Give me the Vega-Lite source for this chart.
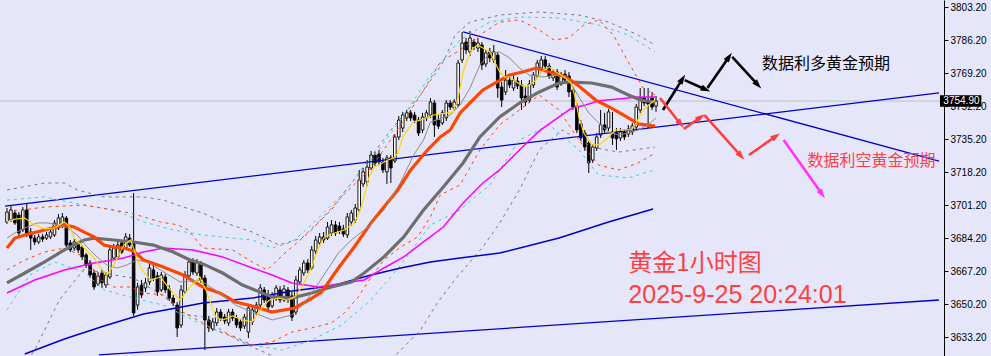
{
"$schema": "https://vega.github.io/schema/vega-lite/v6.json",
"width": 944, "height": 356,
"autosize": {"type": "none"},
"padding": {"left": 0, "top": 0, "right": 47, "bottom": 0},
"background": "#e6e6fa",
"config": {"view": {"stroke": null}, "axisX": {"disable": true}},
"datasets": {
"one": [{"k": 1}],
"candles": [
{"i":0,"o":3692.6,"h":3699.8,"l":3691.6,"c":3697.7},
{"i":1,"o":3693.6,"h":3700.8,"l":3692.6,"c":3698.8},
{"i":2,"o":3697.2,"h":3698.8,"l":3691.1,"c":3692.1},
{"i":3,"o":3696.2,"h":3697.7,"l":3685.4,"c":3686.9},
{"i":4,"o":3688.5,"h":3700.3,"l":3687.4,"c":3698.8},
{"i":5,"o":3698.8,"h":3702.4,"l":3684.9,"c":3685.9},
{"i":6,"o":3687.4,"h":3689.5,"l":3678.2,"c":3684.3},
{"i":7,"o":3684.3,"h":3685.9,"l":3680.7,"c":3682.3},
{"i":8,"o":3682.3,"h":3686.4,"l":3681.3,"c":3684.9},
{"i":9,"o":3684.9,"h":3686.4,"l":3682.3,"c":3683.8},
{"i":10,"o":3684.3,"h":3687.4,"l":3683.3,"c":3685.9},
{"i":11,"o":3684.9,"h":3689.0,"l":3683.8,"c":3687.4},
{"i":12,"o":3685.9,"h":3693.6,"l":3684.9,"c":3692.1},
{"i":13,"o":3689.5,"h":3696.7,"l":3688.5,"c":3694.6},
{"i":14,"o":3691.1,"h":3697.2,"l":3689.5,"c":3695.2},
{"i":15,"o":3694.6,"h":3695.7,"l":3679.7,"c":3680.7},
{"i":16,"o":3681.8,"h":3683.3,"l":3677.1,"c":3678.2},
{"i":17,"o":3679.2,"h":3683.8,"l":3677.6,"c":3682.3},
{"i":18,"o":3681.8,"h":3682.8,"l":3676.6,"c":3678.2},
{"i":19,"o":3679.7,"h":3680.7,"l":3673.0,"c":3674.6},
{"i":20,"o":3675.6,"h":3676.6,"l":3668.9,"c":3670.4},
{"i":21,"o":3671.5,"h":3673.0,"l":3663.7,"c":3665.3},
{"i":22,"o":3666.3,"h":3667.9,"l":3657.6,"c":3659.1},
{"i":23,"o":3660.6,"h":3666.8,"l":3659.6,"c":3664.8},
{"i":24,"o":3666.3,"h":3667.9,"l":3658.6,"c":3661.2},
{"i":25,"o":3660.1,"h":3666.8,"l":3658.6,"c":3665.3},
{"i":26,"o":3664.3,"h":3680.2,"l":3663.2,"c":3678.2},
{"i":27,"o":3674.0,"h":3681.3,"l":3673.0,"c":3679.2},
{"i":28,"o":3674.6,"h":3682.8,"l":3673.5,"c":3680.7},
{"i":29,"o":3681.8,"h":3683.3,"l":3676.1,"c":3677.1},
{"i":30,"o":3679.2,"h":3686.9,"l":3678.2,"c":3684.9},
{"i":31,"o":3684.3,"h":3686.4,"l":3679.7,"c":3680.7},
{"i":32,"o":3682.3,"h":3707.5,"l":3644.2,"c":3645.7},
{"i":33,"o":3649.8,"h":3661.2,"l":3647.3,"c":3659.1},
{"i":34,"o":3660.1,"h":3662.7,"l":3653.4,"c":3655.0},
{"i":35,"o":3658.6,"h":3663.7,"l":3656.5,"c":3661.2},
{"i":36,"o":3661.7,"h":3670.9,"l":3660.1,"c":3668.9},
{"i":37,"o":3667.9,"h":3670.4,"l":3662.2,"c":3663.7},
{"i":38,"o":3664.8,"h":3666.8,"l":3654.5,"c":3656.5},
{"i":39,"o":3657.6,"h":3666.8,"l":3656.5,"c":3665.3},
{"i":40,"o":3664.3,"h":3665.8,"l":3656.0,"c":3657.6},
{"i":41,"o":3658.1,"h":3660.1,"l":3651.9,"c":3653.4},
{"i":42,"o":3653.4,"h":3655.0,"l":3649.3,"c":3650.9},
{"i":43,"o":3649.8,"h":3651.4,"l":3633.3,"c":3638.0},
{"i":44,"o":3639.5,"h":3660.1,"l":3638.0,"c":3657.6},
{"i":45,"o":3656.5,"h":3667.3,"l":3655.5,"c":3665.3},
{"i":46,"o":3664.8,"h":3674.0,"l":3663.7,"c":3672.0},
{"i":47,"o":3672.0,"h":3674.0,"l":3665.3,"c":3666.8},
{"i":48,"o":3666.3,"h":3673.5,"l":3664.8,"c":3672.0},
{"i":49,"o":3671.0,"h":3672.5,"l":3661.2,"c":3662.7},
{"i":50,"o":3663.7,"h":3665.3,"l":3626.6,"c":3642.1},
{"i":51,"o":3642.1,"h":3644.2,"l":3635.9,"c":3638.0},
{"i":52,"o":3637.5,"h":3643.1,"l":3636.4,"c":3641.1},
{"i":53,"o":3640.6,"h":3648.3,"l":3639.0,"c":3646.2},
{"i":54,"o":3646.2,"h":3647.8,"l":3641.6,"c":3643.1},
{"i":55,"o":3643.6,"h":3645.2,"l":3640.0,"c":3641.6},
{"i":56,"o":3640.6,"h":3647.8,"l":3639.0,"c":3646.2},
{"i":57,"o":3646.2,"h":3647.8,"l":3641.6,"c":3643.1},
{"i":58,"o":3643.1,"h":3644.7,"l":3638.0,"c":3639.5},
{"i":59,"o":3641.1,"h":3642.6,"l":3636.4,"c":3638.0},
{"i":60,"o":3639.0,"h":3645.2,"l":3637.5,"c":3643.6},
{"i":61,"o":3635.9,"h":3649.8,"l":3632.8,"c":3648.3},
{"i":62,"o":3641.1,"h":3649.3,"l":3639.5,"c":3647.3},
{"i":63,"o":3646.2,"h":3651.4,"l":3644.7,"c":3649.8},
{"i":64,"o":3649.8,"h":3660.6,"l":3648.8,"c":3658.6},
{"i":65,"o":3657.6,"h":3659.1,"l":3650.9,"c":3652.4},
{"i":66,"o":3655.0,"h":3657.6,"l":3647.3,"c":3648.8},
{"i":67,"o":3649.3,"h":3656.5,"l":3648.3,"c":3655.0},
{"i":68,"o":3652.9,"h":3660.1,"l":3651.9,"c":3658.6},
{"i":69,"o":3657.6,"h":3659.6,"l":3650.9,"c":3652.4},
{"i":70,"o":3652.4,"h":3660.1,"l":3651.4,"c":3658.1},
{"i":71,"o":3657.6,"h":3659.1,"l":3650.9,"c":3652.4},
{"i":72,"o":3654.5,"h":3656.5,"l":3641.6,"c":3643.6},
{"i":73,"o":3646.2,"h":3664.8,"l":3644.7,"c":3662.7},
{"i":74,"o":3661.7,"h":3669.4,"l":3660.6,"c":3667.9},
{"i":75,"o":3666.3,"h":3673.0,"l":3664.8,"c":3671.5},
{"i":76,"o":3671.5,"h":3673.5,"l":3666.3,"c":3667.9},
{"i":77,"o":3668.9,"h":3680.2,"l":3667.9,"c":3678.2},
{"i":78,"o":3677.6,"h":3685.4,"l":3676.1,"c":3683.3},
{"i":79,"o":3681.8,"h":3686.9,"l":3680.2,"c":3684.9},
{"i":80,"o":3684.9,"h":3687.4,"l":3681.8,"c":3683.3},
{"i":81,"o":3684.3,"h":3692.6,"l":3683.3,"c":3690.0},
{"i":82,"o":3686.9,"h":3693.6,"l":3685.4,"c":3691.1},
{"i":83,"o":3691.1,"h":3693.1,"l":3685.4,"c":3686.9},
{"i":84,"o":3690.5,"h":3692.6,"l":3686.4,"c":3687.9},
{"i":85,"o":3689.0,"h":3691.1,"l":3684.9,"c":3686.4},
{"i":86,"o":3685.9,"h":3697.2,"l":3684.3,"c":3695.2},
{"i":87,"o":3692.6,"h":3698.8,"l":3690.5,"c":3697.2},
{"i":88,"o":3693.6,"h":3701.9,"l":3692.1,"c":3699.8},
{"i":89,"o":3698.8,"h":3719.4,"l":3697.7,"c":3714.2},
{"i":90,"o":3712.2,"h":3720.4,"l":3710.6,"c":3718.4},
{"i":91,"o":3713.2,"h":3724.5,"l":3711.1,"c":3720.9},
{"i":92,"o":3720.4,"h":3729.2,"l":3719.4,"c":3727.1},
{"i":93,"o":3727.1,"h":3728.6,"l":3721.4,"c":3723.0},
{"i":94,"o":3727.6,"h":3729.7,"l":3722.0,"c":3723.5},
{"i":95,"o":3723.5,"h":3725.6,"l":3717.8,"c":3719.4},
{"i":96,"o":3718.4,"h":3727.1,"l":3712.2,"c":3725.6},
{"i":97,"o":3725.6,"h":3727.1,"l":3712.7,"c":3720.4},
{"i":98,"o":3724.0,"h":3737.9,"l":3723.0,"c":3736.4},
{"i":99,"o":3736.4,"h":3747.2,"l":3734.8,"c":3745.1},
{"i":100,"o":3741.0,"h":3749.3,"l":3738.9,"c":3747.7},
{"i":101,"o":3746.2,"h":3750.3,"l":3744.6,"c":3748.8},
{"i":102,"o":3748.8,"h":3750.3,"l":3744.6,"c":3746.2},
{"i":103,"o":3747.7,"h":3749.3,"l":3743.6,"c":3745.1},
{"i":104,"o":3745.1,"h":3746.7,"l":3736.9,"c":3738.4},
{"i":105,"o":3740.0,"h":3748.8,"l":3738.4,"c":3746.7},
{"i":106,"o":3746.2,"h":3750.3,"l":3744.6,"c":3748.8},
{"i":107,"o":3747.7,"h":3756.5,"l":3746.2,"c":3754.4},
{"i":108,"o":3753.9,"h":3755.4,"l":3736.4,"c":3742.6},
{"i":109,"o":3745.1,"h":3747.7,"l":3740.5,"c":3742.0},
{"i":110,"o":3743.6,"h":3750.3,"l":3742.6,"c":3748.8},
{"i":111,"o":3746.2,"h":3755.4,"l":3744.6,"c":3753.9},
{"i":112,"o":3753.9,"h":3755.4,"l":3750.3,"c":3751.8},
{"i":113,"o":3751.3,"h":3755.9,"l":3749.8,"c":3754.4},
{"i":114,"o":3752.9,"h":3776.1,"l":3751.8,"c":3774.5},
{"i":115,"o":3776.1,"h":3790.5,"l":3774.5,"c":3784.8},
{"i":116,"o":3785.3,"h":3787.4,"l":3779.1,"c":3781.2},
{"i":117,"o":3780.2,"h":3791.0,"l":3778.1,"c":3787.4},
{"i":118,"o":3785.3,"h":3786.9,"l":3781.2,"c":3782.8},
{"i":119,"o":3782.2,"h":3787.4,"l":3780.2,"c":3784.8},
{"i":120,"o":3783.8,"h":3785.3,"l":3770.9,"c":3773.5},
{"i":121,"o":3774.0,"h":3781.2,"l":3772.4,"c":3779.7},
{"i":122,"o":3780.2,"h":3782.2,"l":3775.0,"c":3777.1},
{"i":123,"o":3776.1,"h":3783.8,"l":3774.5,"c":3780.2},
{"i":124,"o":3778.6,"h":3780.2,"l":3756.5,"c":3761.6},
{"i":125,"o":3762.1,"h":3764.7,"l":3751.8,"c":3755.4},
{"i":126,"o":3759.6,"h":3770.9,"l":3758.0,"c":3765.7},
{"i":127,"o":3765.7,"h":3767.8,"l":3761.6,"c":3763.2},
{"i":128,"o":3761.6,"h":3768.8,"l":3760.1,"c":3765.7},
{"i":129,"o":3765.2,"h":3767.3,"l":3761.1,"c":3762.7},
{"i":130,"o":3763.2,"h":3765.7,"l":3750.3,"c":3756.5},
{"i":131,"o":3757.5,"h":3762.7,"l":3752.3,"c":3754.4},
{"i":132,"o":3755.4,"h":3765.7,"l":3753.9,"c":3763.7},
{"i":133,"o":3763.2,"h":3769.9,"l":3761.6,"c":3768.3},
{"i":134,"o":3767.8,"h":3776.1,"l":3766.3,"c":3774.5},
{"i":135,"o":3771.9,"h":3778.1,"l":3770.4,"c":3776.1},
{"i":136,"o":3776.1,"h":3778.1,"l":3770.9,"c":3772.9},
{"i":137,"o":3772.9,"h":3774.5,"l":3766.3,"c":3767.8},
{"i":138,"o":3766.8,"h":3771.4,"l":3765.2,"c":3769.9},
{"i":139,"o":3769.9,"h":3771.4,"l":3760.6,"c":3762.1},
{"i":140,"o":3763.7,"h":3769.9,"l":3762.7,"c":3768.3},
{"i":141,"o":3768.8,"h":3770.9,"l":3764.2,"c":3765.7},
{"i":142,"o":3767.8,"h":3769.9,"l":3757.0,"c":3759.6},
{"i":143,"o":3760.6,"h":3762.1,"l":3750.3,"c":3751.8},
{"i":144,"o":3752.3,"h":3753.9,"l":3738.4,"c":3740.0},
{"i":145,"o":3743.1,"h":3745.1,"l":3734.3,"c":3735.9},
{"i":146,"o":3738.4,"h":3740.0,"l":3729.2,"c":3731.2},
{"i":147,"o":3733.3,"h":3734.8,"l":3717.8,"c":3723.0},
{"i":148,"o":3724.5,"h":3732.8,"l":3723.0,"c":3731.2},
{"i":149,"o":3730.7,"h":3738.4,"l":3729.2,"c":3736.4},
{"i":150,"o":3737.4,"h":3750.3,"l":3735.9,"c":3742.6},
{"i":151,"o":3742.6,"h":3748.8,"l":3738.4,"c":3740.0},
{"i":152,"o":3741.0,"h":3750.8,"l":3739.5,"c":3749.3},
{"i":153,"o":3739.0,"h":3749.3,"l":3732.3,"c":3735.9},
{"i":154,"o":3738.4,"h":3741.0,"l":3729.7,"c":3735.4},
{"i":155,"o":3735.9,"h":3741.0,"l":3734.3,"c":3739.0},
{"i":156,"o":3739.0,"h":3740.5,"l":3734.8,"c":3736.4},
{"i":157,"o":3737.9,"h":3742.6,"l":3736.4,"c":3740.5},
{"i":158,"o":3739.0,"h":3743.6,"l":3737.4,"c":3742.1},
{"i":159,"o":3741.5,"h":3753.4,"l":3740.0,"c":3751.8},
{"i":160,"o":3750.3,"h":3761.6,"l":3748.8,"c":3756.5},
{"i":161,"o":3756.5,"h":3761.6,"l":3752.3,"c":3753.9},
{"i":162,"o":3755.4,"h":3761.6,"l":3741.0,"c":3753.4},
{"i":163,"o":3756.5,"h":3759.6,"l":3750.3,"c":3751.8},
{"i":164,"o":3752.3,"h":3757.5,"l":3749.3,"c":3754.9}
],
"lines": [
{"s":"y","i":0,"p":3692.6},{"s":"y","i":2,"p":3694.1},{"s":"y","i":4.5,"p":3694.6},{"s":"y","i":7,"p":3691.1},{"s":"y","i":9.5,"p":3689.0},{"s":"y","i":12,"p":3689.5},{"s":"y","i":13.25,"p":3691.1},{"s":"y","i":14.5,"p":3692.6},{"s":"y","i":15.75,"p":3690.5},{"s":"y","i":17,"p":3684.3},{"s":"y","i":19.5,"p":3679.2},{"s":"y","i":22,"p":3674.0},{"s":"y","i":23.75,"p":3668.9},{"s":"y","i":25.25,"p":3665.3},{"s":"y","i":27,"p":3670.4},{"s":"y","i":29.5,"p":3680.7},{"s":"y","i":31.25,"p":3683.3},{"s":"y","i":33.75,"p":3668.9},{"s":"y","i":36.25,"p":3662.7},{"s":"y","i":38.75,"p":3664.3},{"s":"y","i":41.25,"p":3657.6},{"s":"y","i":43.75,"p":3652.4},{"s":"y","i":46.25,"p":3659.1},{"s":"y","i":48.75,"p":3664.3},{"s":"y","i":50.25,"p":3657.6},{"s":"y","i":52.75,"p":3643.6},{"s":"y","i":54.5,"p":3642.1},{"s":"y","i":57,"p":3644.2},{"s":"y","i":59.5,"p":3642.1},{"s":"y","i":62,"p":3641.1},{"s":"y","i":64,"p":3647.3},{"s":"y","i":66.25,"p":3652.4},{"s":"y","i":68.75,"p":3653.4},{"s":"y","i":70.75,"p":3652.4},{"s":"y","i":72.75,"p":3654.0},{"s":"y","i":74.5,"p":3659.1},{"s":"y","i":77,"p":3669.4},{"s":"y","i":78.75,"p":3679.7},{"s":"y","i":80.25,"p":3684.9},{"s":"y","i":82.75,"p":3686.9},{"s":"y","i":85.25,"p":3688.5},{"s":"y","i":87.75,"p":3692.1},{"s":"y","i":89,"p":3697.2},{"s":"y","i":90.25,"p":3705.5},{"s":"y","i":91.5,"p":3715.8},{"s":"y","i":92.75,"p":3720.9},{"s":"y","i":94,"p":3722.0},{"s":"y","i":96.25,"p":3724.5},{"s":"y","i":97.75,"p":3725.6},{"s":"y","i":98.75,"p":3728.1},{"s":"y","i":100,"p":3736.4},{"s":"y","i":101.25,"p":3740.0},{"s":"y","i":102.75,"p":3744.1},{"s":"y","i":104.5,"p":3745.1},{"s":"y","i":107.75,"p":3747.7},{"s":"y","i":111.25,"p":3748.8},{"s":"y","i":112.75,"p":3749.3},{"s":"y","i":114,"p":3756.5},{"s":"y","i":115.25,"p":3769.9},{"s":"y","i":116.5,"p":3777.1},{"s":"y","i":117.75,"p":3782.2},{"s":"y","i":119,"p":3783.8},{"s":"y","i":120.25,"p":3782.2},{"s":"y","i":122,"p":3780.2},{"s":"y","i":123.25,"p":3775.0},{"s":"y","i":124.5,"p":3769.9},{"s":"y","i":125.75,"p":3767.3},{"s":"y","i":127,"p":3767.3},{"s":"y","i":128.75,"p":3764.7},{"s":"y","i":130.75,"p":3762.1},{"s":"y","i":132,"p":3763.2},{"s":"y","i":133.75,"p":3765.7},{"s":"y","i":135,"p":3769.9},{"s":"y","i":137,"p":3772.4},{"s":"y","i":138.75,"p":3769.9},{"s":"y","i":140.75,"p":3767.3},{"s":"y","i":142.5,"p":3764.2},{"s":"y","i":143.75,"p":3755.4},{"s":"y","i":144.5,"p":3746.7},{"s":"y","i":145.75,"p":3738.4},{"s":"y","i":147.75,"p":3732.3},{"s":"y","i":149.5,"p":3732.3},{"s":"y","i":151.25,"p":3734.8},{"s":"y","i":153.75,"p":3740.0},{"s":"y","i":156.25,"p":3740.0},{"s":"y","i":157.75,"p":3740.0},{"s":"y","i":159,"p":3743.6},{"s":"y","i":160.75,"p":3750.3},{"s":"y","i":162.75,"p":3753.9},{"s":"y","i":163.75,"p":3755.4},
{"s":"g1","i":0,"p":3684.3},{"s":"g1","i":2,"p":3686.9},{"s":"g1","i":4.5,"p":3689.5},{"s":"g1","i":7.75,"p":3692.1},{"s":"g1","i":10.25,"p":3692.1},{"s":"g1","i":12.75,"p":3691.1},{"s":"g1","i":15.25,"p":3689.5},{"s":"g1","i":17.75,"p":3685.9},{"s":"g1","i":20.25,"p":3679.7},{"s":"g1","i":22.75,"p":3674.6},{"s":"g1","i":25.25,"p":3670.4},{"s":"g1","i":27.75,"p":3668.9},{"s":"g1","i":30.25,"p":3670.4},{"s":"g1","i":32.75,"p":3673.0},{"s":"g1","i":35.25,"p":3672.0},{"s":"g1","i":38.75,"p":3667.9},{"s":"g1","i":43.75,"p":3661.7},{"s":"g1","i":48.75,"p":3662.7},{"s":"g1","i":53.75,"p":3656.0},{"s":"g1","i":57.75,"p":3649.8},{"s":"g1","i":62,"p":3646.2},{"s":"g1","i":67,"p":3642.1},{"s":"g1","i":72,"p":3644.7},{"s":"g1","i":75.25,"p":3650.9},{"s":"g1","i":78.75,"p":3661.2},{"s":"g1","i":83.75,"p":3676.6},{"s":"g1","i":87,"p":3683.3},{"s":"g1","i":91.25,"p":3690.0},{"s":"g1","i":95.25,"p":3698.8},{"s":"g1","i":99.5,"p":3713.2},{"s":"g1","i":102.75,"p":3727.1},{"s":"g1","i":105.25,"p":3734.8},{"s":"g1","i":107,"p":3744.1},{"s":"g1","i":112,"p":3747.7},{"s":"g1","i":114.5,"p":3752.9},{"s":"g1","i":117,"p":3761.6},{"s":"g1","i":119.5,"p":3773.5},{"s":"g1","i":122,"p":3779.7},{"s":"g1","i":124.5,"p":3780.2},{"s":"g1","i":127,"p":3777.1},{"s":"g1","i":129.5,"p":3771.9},{"s":"g1","i":132,"p":3768.3},{"s":"g1","i":135.25,"p":3767.3},{"s":"g1","i":139.5,"p":3768.3},{"s":"g1","i":142,"p":3765.7},{"s":"g1","i":144.5,"p":3757.0},{"s":"g1","i":147,"p":3748.8},{"s":"g1","i":149.5,"p":3743.6},{"s":"g1","i":152,"p":3739.0},{"s":"g1","i":154.5,"p":3737.4},{"s":"g1","i":157,"p":3738.4},{"s":"g1","i":159.5,"p":3740.0},{"s":"g1","i":162,"p":3742.6},{"s":"g1","i":164,"p":3746.2},
{"s":"o","i":0,"p":3679.2},{"s":"o","i":2,"p":3684.3},{"s":"o","i":4.5,"p":3685.9},{"s":"o","i":9.5,"p":3688.5},{"s":"o","i":14.5,"p":3691.1},{"s":"o","i":17,"p":3690.0},{"s":"o","i":19.5,"p":3687.4},{"s":"o","i":22,"p":3684.9},{"s":"o","i":24.5,"p":3680.7},{"s":"o","i":27,"p":3679.7},{"s":"o","i":29.5,"p":3679.2},{"s":"o","i":32,"p":3677.6},{"s":"o","i":34.5,"p":3673.0},{"s":"o","i":39.5,"p":3669.4},{"s":"o","i":44.5,"p":3665.3},{"s":"o","i":49.5,"p":3659.1},{"s":"o","i":53.75,"p":3656.0},{"s":"o","i":57.75,"p":3651.4},{"s":"o","i":62,"p":3649.3},{"s":"o","i":67,"p":3646.2},{"s":"o","i":72.75,"p":3648.3},{"s":"o","i":76.25,"p":3652.4},{"s":"o","i":79.5,"p":3656.5},{"s":"o","i":83.75,"p":3668.9},{"s":"o","i":87.75,"p":3679.7},{"s":"o","i":92,"p":3692.1},{"s":"o","i":95.25,"p":3700.3},{"s":"o","i":98.75,"p":3709.1},{"s":"o","i":102,"p":3719.4},{"s":"o","i":106.25,"p":3729.7},{"s":"o","i":109.5,"p":3736.4},{"s":"o","i":112,"p":3740.0},{"s":"o","i":114.5,"p":3748.8},{"s":"o","i":117,"p":3753.9},{"s":"o","i":120.25,"p":3760.6},{"s":"o","i":123.75,"p":3764.7},{"s":"o","i":127,"p":3768.3},{"s":"o","i":130.25,"p":3769.9},{"s":"o","i":133.75,"p":3771.9},{"s":"o","i":137,"p":3769.9},{"s":"o","i":141.25,"p":3767.3},{"s":"o","i":144.5,"p":3762.7},{"s":"o","i":148.75,"p":3755.4},{"s":"o","i":152.75,"p":3751.3},{"s":"o","i":157,"p":3746.2},{"s":"o","i":159.5,"p":3743.1},{"s":"o","i":163.75,"p":3742.0},
{"s":"g2","i":0,"p":3661.2},{"s":"g2","i":4.5,"p":3666.3},{"s":"g2","i":9.5,"p":3672.0},{"s":"g2","i":14.5,"p":3678.2},{"s":"g2","i":19.5,"p":3683.3},{"s":"g2","i":22,"p":3684.3},{"s":"g2","i":27,"p":3683.3},{"s":"g2","i":32,"p":3682.3},{"s":"g2","i":37,"p":3680.7},{"s":"g2","i":42,"p":3677.1},{"s":"g2","i":46.25,"p":3673.0},{"s":"g2","i":49.5,"p":3671.0},{"s":"g2","i":54.5,"p":3666.3},{"s":"g2","i":59.5,"p":3660.1},{"s":"g2","i":62,"p":3658.1},{"s":"g2","i":67,"p":3654.0},{"s":"g2","i":72,"p":3653.4},{"s":"g2","i":77,"p":3656.0},{"s":"g2","i":82,"p":3659.1},{"s":"g2","i":87,"p":3661.7},{"s":"g2","i":90.25,"p":3666.3},{"s":"g2","i":95.25,"p":3674.6},{"s":"g2","i":100.25,"p":3684.9},{"s":"g2","i":105.25,"p":3698.8},{"s":"g2","i":110.25,"p":3710.6},{"s":"g2","i":115.25,"p":3723.0},{"s":"g2","i":119.5,"p":3736.4},{"s":"g2","i":124.5,"p":3746.7},{"s":"g2","i":129.5,"p":3753.9},{"s":"g2","i":134.5,"p":3759.6},{"s":"g2","i":139.5,"p":3764.2},{"s":"g2","i":142.75,"p":3764.7},{"s":"g2","i":147.75,"p":3764.2},{"s":"g2","i":152.75,"p":3762.1},{"s":"g2","i":157,"p":3758.0},{"s":"g2","i":160.25,"p":3755.4},{"s":"g2","i":163.75,"p":3754.4},
{"s":"m","i":0,"p":3656.0},{"s":"m","i":7,"p":3662.7},{"s":"m","i":14.5,"p":3667.9},{"s":"m","i":22,"p":3671.5},{"s":"m","i":29.5,"p":3674.0},{"s":"m","i":34.5,"p":3677.1},{"s":"m","i":39.5,"p":3679.2},{"s":"m","i":47,"p":3678.2},{"s":"m","i":54.5,"p":3674.6},{"s":"m","i":62,"p":3668.9},{"s":"m","i":67,"p":3665.3},{"s":"m","i":72,"p":3661.2},{"s":"m","i":78.75,"p":3659.1},{"s":"m","i":85.25,"p":3661.2},{"s":"m","i":90.25,"p":3662.7},{"s":"m","i":95.25,"p":3668.9},{"s":"m","i":100.25,"p":3674.6},{"s":"m","i":105.25,"p":3682.3},{"s":"m","i":110.25,"p":3690.0},{"s":"m","i":115.25,"p":3702.4},{"s":"m","i":120.25,"p":3712.7},{"s":"m","i":124.5,"p":3719.4},{"s":"m","i":129.5,"p":3729.7},{"s":"m","i":134.5,"p":3739.5},{"s":"m","i":139.5,"p":3746.7},{"s":"m","i":142.75,"p":3751.3},{"s":"m","i":146.25,"p":3752.9},{"s":"m","i":149.5,"p":3755.0},{"s":"m","i":154.5,"p":3756.0},{"s":"m","i":159.5,"p":3757.0},{"s":"m","i":163.75,"p":3757.0},
{"s":"bc","i":4.5,"p":3624.6},{"s":"bc","i":14.5,"p":3632.3},{"s":"bc","i":24.5,"p":3639.0},{"s":"bc","i":34.5,"p":3645.2},{"s":"bc","i":42.75,"p":3648.3},{"s":"bc","i":49.5,"p":3650.9},{"s":"bc","i":62,"p":3653.4},{"s":"bc","i":72,"p":3657.0},{"s":"bc","i":82,"p":3659.6},{"s":"bc","i":92,"p":3665.3},{"s":"bc","i":99.5,"p":3668.9},{"s":"bc","i":107,"p":3672.0},{"s":"bc","i":114.5,"p":3674.0},{"s":"bc","i":124.5,"p":3676.6},{"s":"bc","i":139.5,"p":3684.3},{"s":"bc","i":152,"p":3692.6},{"s":"bc","i":163.25,"p":3699.3},
{"s":"ou","i":0,"p":3697.7},{"s":"ou","i":9.5,"p":3700.3},{"s":"ou","i":19.5,"p":3701.3},{"s":"ou","i":31.25,"p":3697.2},{"s":"ou","i":38.75,"p":3692.6},{"s":"ou","i":43.25,"p":3691.1},{"s":"ou","i":45.75,"p":3688.5},{"s":"ou","i":49.5,"p":3679.2},{"s":"ou","i":57,"p":3678.2},{"s":"ou","i":62,"p":3672.0},{"s":"ou","i":65.75,"p":3667.9},{"s":"ou","i":70.25,"p":3676.6},{"s":"ou","i":77,"p":3688.5},{"s":"ou","i":84.5,"p":3705.5},{"s":"ou","i":92,"p":3720.4},{"s":"ou","i":99.5,"p":3742.6},{"s":"ou","i":104.5,"p":3758.0},{"s":"ou","i":109.5,"p":3775.0},{"s":"ou","i":114.5,"p":3781.2},{"s":"ou","i":120.25,"p":3790.0},{"s":"ou","i":124.5,"p":3795.6},{"s":"ou","i":129.5,"p":3796.7},{"s":"ou","i":134.5,"p":3791.5},{"s":"ou","i":138.25,"p":3786.4},{"s":"ou","i":142,"p":3787.4},{"s":"ou","i":145.75,"p":3794.1},{"s":"ou","i":149.5,"p":3796.7},{"s":"ou","i":153.25,"p":3788.9},{"s":"ou","i":157,"p":3775.0},{"s":"ou","i":160.75,"p":3761.6},{"s":"ou","i":163.75,"p":3758.0},
{"s":"ol","i":0,"p":3667.9},{"s":"ol","i":4.5,"p":3673.0},{"s":"ol","i":9.5,"p":3677.1},{"s":"ol","i":14.5,"p":3679.2},{"s":"ol","i":19.5,"p":3674.6},{"s":"ol","i":23.75,"p":3662.7},{"s":"ol","i":27,"p":3659.1},{"s":"ol","i":31.25,"p":3659.1},{"s":"ol","i":34.5,"p":3656.0},{"s":"ol","i":39.5,"p":3655.0},{"s":"ol","i":44.5,"p":3646.2},{"s":"ol","i":49.5,"p":3640.6},{"s":"ol","i":52.75,"p":3636.9},{"s":"ol","i":57.75,"p":3633.3},{"s":"ol","i":62,"p":3629.2},{"s":"ol","i":67,"p":3630.8},{"s":"ol","i":72,"p":3635.9},{"s":"ol","i":77,"p":3638.0},{"s":"ol","i":82,"p":3640.6},{"s":"ol","i":85.25,"p":3645.7},{"s":"ol","i":88.75,"p":3653.9},{"s":"ol","i":92,"p":3664.3},{"s":"ol","i":95.25,"p":3673.0},{"s":"ol","i":99.5,"p":3679.7},{"s":"ol","i":103.75,"p":3684.9},{"s":"ol","i":107,"p":3695.2},{"s":"ol","i":109.5,"p":3706.5},{"s":"ol","i":114.5,"p":3711.7},{"s":"ol","i":119.5,"p":3729.7},{"s":"ol","i":124.5,"p":3742.6},{"s":"ol","i":129.5,"p":3750.3},{"s":"ol","i":134.5,"p":3758.0},{"s":"ol","i":139.5,"p":3750.3},{"s":"ol","i":144.5,"p":3734.8},{"s":"ol","i":149.5,"p":3721.9},{"s":"ol","i":154.5,"p":3719.4},{"s":"ol","i":159.5,"p":3723.0},{"s":"ol","i":163.75,"p":3728.1},
{"s":"cu","i":0,"p":3703.9},{"s":"cu","i":9.5,"p":3705.5},{"s":"cu","i":19.5,"p":3701.3},{"s":"cu","i":27,"p":3698.8},{"s":"cu","i":34.5,"p":3692.6},{"s":"cu","i":42,"p":3688.5},{"s":"cu","i":49.5,"p":3685.9},{"s":"cu","i":57,"p":3684.3},{"s":"cu","i":62,"p":3683.3},{"s":"cu","i":67,"p":3679.2},{"s":"cu","i":72,"p":3682.3},{"s":"cu","i":77,"p":3691.1},{"s":"cu","i":84.5,"p":3706.5},{"s":"cu","i":92,"p":3724.5},{"s":"cu","i":99.5,"p":3745.1},{"s":"cu","i":107,"p":3768.3},{"s":"cu","i":114.5,"p":3786.4},{"s":"cu","i":122,"p":3795.6},{"s":"cu","i":129.5,"p":3798.2},{"s":"cu","i":139.5,"p":3797.7},{"s":"cu","i":149.5,"p":3794.1},{"s":"cu","i":157,"p":3788.9},{"s":"cu","i":163.75,"p":3780.2},
{"s":"cl","i":0,"p":3647.3},{"s":"cl","i":5.75,"p":3665.3},{"s":"cl","i":12,"p":3672.0},{"s":"cl","i":19.5,"p":3666.8},{"s":"cl","i":24.5,"p":3657.6},{"s":"cl","i":32,"p":3653.4},{"s":"cl","i":39.5,"p":3649.8},{"s":"cl","i":47,"p":3642.1},{"s":"cl","i":54.5,"p":3635.4},{"s":"cl","i":62,"p":3629.2},{"s":"cl","i":69.5,"p":3626.6},{"s":"cl","i":77,"p":3631.8},{"s":"cl","i":84.5,"p":3639.5},{"s":"cl","i":92,"p":3652.4},{"s":"cl","i":99.5,"p":3670.4},{"s":"cl","i":107,"p":3691.1},{"s":"cl","i":114.5,"p":3698.8},{"s":"cl","i":122,"p":3711.7},{"s":"cl","i":129.5,"p":3734.8},{"s":"cl","i":137,"p":3742.6},{"s":"cl","i":144.5,"p":3729.7},{"s":"cl","i":149.5,"p":3716.8},{"s":"cl","i":157,"p":3715.3},{"s":"cl","i":163.75,"p":3719.4},
{"s":"gu","i":0,"p":3709.1},{"s":"gu","i":9.5,"p":3712.7},{"s":"gu","i":14.5,"p":3712.7},{"s":"gu","i":17.75,"p":3709.1},{"s":"gu","i":24.5,"p":3705.5},{"s":"gu","i":34.5,"p":3705.5},{"s":"gu","i":39.5,"p":3703.9},{"s":"gu","i":44.5,"p":3700.3},{"s":"gu","i":49.5,"p":3697.2},{"s":"gu","i":54.5,"p":3692.6},{"s":"gu","i":62,"p":3687.4},{"s":"gu","i":68.75,"p":3680.7},{"s":"gu","i":74.5,"p":3684.3},{"s":"gu","i":82,"p":3698.8},{"s":"gu","i":89.5,"p":3719.4},{"s":"gu","i":97,"p":3740.0},{"s":"gu","i":104.5,"p":3758.0},{"s":"gu","i":110.25,"p":3775.0},{"s":"gu","i":113.25,"p":3788.9},{"s":"gu","i":117,"p":3795.6},{"s":"gu","i":124.5,"p":3799.2},{"s":"gu","i":134.5,"p":3800.8},{"s":"gu","i":144.5,"p":3799.2},{"s":"gu","i":152,"p":3795.6},{"s":"gu","i":159.5,"p":3788.9},{"s":"gu","i":163.75,"p":3783.8},
{"s":"gl","i":3.25,"p":3615.3},{"s":"gl","i":7,"p":3626.6},{"s":"gl","i":13.25,"p":3652.4},{"s":"gl","i":19.5,"p":3668.4},{"s":"gl","i":27,"p":3665.3},{"s":"gl","i":32,"p":3663.7},{"s":"gl","i":39.5,"p":3654.5},{"s":"gl","i":44.5,"p":3645.2},{"s":"gl","i":49.5,"p":3643.6},{"s":"gl","i":53.75,"p":3637.5},{"s":"gl","i":57.75,"p":3632.3},{"s":"gl","i":62,"p":3628.2},{"s":"gl","i":69.5,"p":3621.5},{"s":"gl","i":82,"p":3617.4},{"s":"gl","i":97,"p":3621.5},{"s":"gl","i":104.5,"p":3636.9},{"s":"gl","i":108.75,"p":3650.9},{"s":"gl","i":113.75,"p":3664.3},{"s":"gl","i":120.25,"p":3679.7},{"s":"gl","i":124.5,"p":3692.1},{"s":"gl","i":129.5,"p":3709.1},{"s":"gl","i":134.5,"p":3729.7},{"s":"gl","i":140.25,"p":3740.0},{"s":"gl","i":147.75,"p":3731.2},{"s":"gl","i":154.5,"p":3728.6},{"s":"gl","i":163.75,"p":3731.2},
{"s":"t1","i":-0.5,"p":3700.8},{"s":"t1","i":235.5,"p":3759.1},
{"s":"t2","i":23.25,"p":3624.1},{"s":"t2","i":235.5,"p":3652.4},
{"s":"t3","i":115.25,"p":3790.5},{"s":"t3","i":235.5,"p":3724.0}
],
"arrows": [
{"g":"b","x1":165.75,"p1":3750.3,"x2":170.5,"p2":3765.7},
{"g":"b","x1":171.25,"p1":3765.7,"x2":176.25,"p2":3761.1},
{"g":"b","x1":177,"p1":3761.6,"x2":182.25,"p2":3777.1},
{"g":"b","x1":183.25,"p1":3777.6,"x2":189.5,"p2":3763.7},
{"g":"r","x1":165,"p1":3756.5,"x2":170,"p2":3743.6},
{"g":"r","x1":171,"p1":3740.5,"x2":175,"p2":3746.2},
{"g":"r","x1":176.25,"p1":3747.7,"x2":185.25,"p2":3727.1},
{"g":"r","x1":187.5,"p1":3727.1,"x2":194,"p2":3736.4},
{"g":"m","x1":196.25,"p1":3734.8,"x2":205.75,"p2":3707.5}
]
},
"layer": [
{
"data": {"name": "one"},
"mark": {"type": "rule", "color": "#c0c0c0", "strokeWidth": 1},
"encoding": {
"y": {"datum": 3754.9, "type": "quantitative", "scale": {"domain": [3623.55, 3806.96], "nice": false, "zero": false},
"axis": {"orient": "right", "values": [3633.2,3650.2,3667.2,3684.2,3701.2,3718.2,3735.2,3752.2,3769.2,3786.2,3803.2], "tickCount": 20, "format": ".2f", "title": null, "grid": false, "labelFont": "Liberation Sans", "labelFontSize": 10, "labelColor": "#000000", "tickColor": "#000000", "domainColor": "#000000", "tickSize": 4, "labelPadding": 2, "domainWidth": 1, "labelFlush": false, "labelOverlap": false}}
}
},
{
"data": {"name": "candles"},
"mark": {"type": "rule", "color": "#000000", "strokeWidth": 1, "clip": true},
"encoding": {
"x": {"field": "i", "type": "quantitative", "scale": {"domain": [-0.5, 235.5], "nice": false, "zero": false}, "axis": null},
"y": {"field": "l", "type": "quantitative", "scale": {"domain": [3623.55, 3806.96], "nice": false, "zero": false}},
"y2": {"field": "h"}
}
},
{
"data": {"name": "candles"},
"mark": {"type": "bar", "size": 2.6, "stroke": "#000000", "strokeWidth": 0.9, "clip": true},
"encoding": {
"x": {"field": "i", "type": "quantitative", "scale": {"domain": [-0.5, 235.5], "nice": false, "zero": false}, "axis": null},
"y": {"field": "o", "type": "quantitative", "scale": {"domain": [3623.55, 3806.96], "nice": false, "zero": false}},
"y2": {"field": "c"},
"fill": {"condition": {"test": "datum.c >= datum.o", "value": "#ffffff"}, "value": "#000000"}
}
},
{
"data": {"name": "lines"},
"transform": [{"filter": "datum.s === 't1' || datum.s === 't2' || datum.s === 't3'"}],
"mark": {"type": "line", "color": "#0000cd", "strokeWidth": 1.3, "clip": true},
"encoding": {
"x": {"field": "i", "type": "quantitative", "scale": {"domain": [-0.5, 235.5], "nice": false, "zero": false}, "axis": null},
"y": {"field": "p", "type": "quantitative", "scale": {"domain": [3623.55, 3806.96], "nice": false, "zero": false}},
"detail": {"field": "s"}
}
},
{
"data": {"name": "lines"},
"transform": [{"filter": "datum.s === 'gu' || datum.s === 'gl'"}],
"mark": {"type": "line", "color": "#7a7a7a", "strokeWidth": 1, "strokeDash": [3, 4], "clip": true},
"encoding": {
"x": {"field": "i", "type": "quantitative", "scale": {"domain": [-0.5, 235.5], "nice": false, "zero": false}, "axis": null},
"y": {"field": "p", "type": "quantitative", "scale": {"domain": [3623.55, 3806.96], "nice": false, "zero": false}},
"detail": {"field": "s"}
}
},
{
"data": {"name": "lines"},
"transform": [{"filter": "datum.s === 'cu' || datum.s === 'cl'"}],
"mark": {"type": "line", "color": "#3fcfcf", "strokeWidth": 1, "strokeDash": [3, 4], "clip": true},
"encoding": {
"x": {"field": "i", "type": "quantitative", "scale": {"domain": [-0.5, 235.5], "nice": false, "zero": false}, "axis": null},
"y": {"field": "p", "type": "quantitative", "scale": {"domain": [3623.55, 3806.96], "nice": false, "zero": false}},
"detail": {"field": "s"}
}
},
{
"data": {"name": "lines"},
"transform": [{"filter": "datum.s === 'ou' || datum.s === 'ol'"}],
"mark": {"type": "line", "color": "#ff4500", "strokeWidth": 1, "strokeDash": [3, 4], "clip": true},
"encoding": {
"x": {"field": "i", "type": "quantitative", "scale": {"domain": [-0.5, 235.5], "nice": false, "zero": false}, "axis": null},
"y": {"field": "p", "type": "quantitative", "scale": {"domain": [3623.55, 3806.96], "nice": false, "zero": false}},
"detail": {"field": "s"}
}
},
{
"data": {"name": "lines"},
"transform": [{"filter": "datum.s === 'bc'"}],
"mark": {"type": "line", "color": "#0000cd", "strokeWidth": 1.5, "clip": true},
"encoding": {
"x": {"field": "i", "type": "quantitative", "scale": {"domain": [-0.5, 235.5], "nice": false, "zero": false}, "axis": null},
"y": {"field": "p", "type": "quantitative", "scale": {"domain": [3623.55, 3806.96], "nice": false, "zero": false}}
}
},
{
"data": {"name": "lines"},
"transform": [{"filter": "datum.s === 'm'"}],
"mark": {"type": "line", "color": "#ff00ff", "strokeWidth": 1.5, "clip": true},
"encoding": {
"x": {"field": "i", "type": "quantitative", "scale": {"domain": [-0.5, 235.5], "nice": false, "zero": false}, "axis": null},
"y": {"field": "p", "type": "quantitative", "scale": {"domain": [3623.55, 3806.96], "nice": false, "zero": false}}
}
},
{
"data": {"name": "lines"},
"transform": [{"filter": "datum.s === 'g2'"}],
"mark": {"type": "line", "color": "#6e6e6e", "strokeWidth": 3.2, "clip": true},
"encoding": {
"x": {"field": "i", "type": "quantitative", "scale": {"domain": [-0.5, 235.5], "nice": false, "zero": false}, "axis": null},
"y": {"field": "p", "type": "quantitative", "scale": {"domain": [3623.55, 3806.96], "nice": false, "zero": false}}
}
},
{
"data": {"name": "lines"},
"transform": [{"filter": "datum.s === 'o'"}],
"mark": {"type": "line", "color": "#ff4500", "strokeWidth": 3.2, "clip": true},
"encoding": {
"x": {"field": "i", "type": "quantitative", "scale": {"domain": [-0.5, 235.5], "nice": false, "zero": false}, "axis": null},
"y": {"field": "p", "type": "quantitative", "scale": {"domain": [3623.55, 3806.96], "nice": false, "zero": false}}
}
},
{
"data": {"name": "lines"},
"transform": [{"filter": "datum.s === 'g1'"}],
"mark": {"type": "line", "color": "#8c8c8c", "strokeWidth": 1, "clip": true},
"encoding": {
"x": {"field": "i", "type": "quantitative", "scale": {"domain": [-0.5, 235.5], "nice": false, "zero": false}, "axis": null},
"y": {"field": "p", "type": "quantitative", "scale": {"domain": [3623.55, 3806.96], "nice": false, "zero": false}}
}
},
{
"data": {"name": "lines"},
"transform": [{"filter": "datum.s === 'y'"}],
"mark": {"type": "line", "color": "#ffd700", "strokeWidth": 1.2, "clip": true},
"encoding": {
"x": {"field": "i", "type": "quantitative", "scale": {"domain": [-0.5, 235.5], "nice": false, "zero": false}, "axis": null},
"y": {"field": "p", "type": "quantitative", "scale": {"domain": [3623.55, 3806.96], "nice": false, "zero": false}}
}
},
{
"data": {"name": "arrows"},
"mark": {"type": "rule", "strokeWidth": 2.6},
"encoding": {
"x": {"field": "x1", "type": "quantitative", "scale": {"domain": [-0.5, 235.5], "nice": false, "zero": false}, "axis": null},
"y": {"field": "p1", "type": "quantitative", "scale": {"domain": [3623.55, 3806.96], "nice": false, "zero": false}},
"x2": {"field": "x2"},
"y2": {"field": "p2"},
"color": {"field": "g", "type": "nominal", "scale": {"domain": ["b", "r", "m"], "range": ["#000000", "#ff3b3b", "#ff33ff"]}, "legend": null}
}
},
{
"data": {"name": "arrows"},
"transform": [{"calculate": "atan2((datum.x2 - datum.x1) * 4, (datum.p2 - datum.p1) * 1.941) * 180 / PI", "as": "ang"}],
"mark": {"type": "point", "shape": "M0,-1.1L0.55,0.6L-0.55,0.6Z", "filled": true, "size": 130, "opacity": 1},
"encoding": {
"x": {"field": "x2", "type": "quantitative", "scale": {"domain": [-0.5, 235.5], "nice": false, "zero": false}, "axis": null},
"y": {"field": "p2", "type": "quantitative", "scale": {"domain": [3623.55, 3806.96], "nice": false, "zero": false}},
"angle": {"field": "ang", "type": "quantitative", "scale": null},
"color": {"field": "g", "type": "nominal", "scale": {"domain": ["b", "r", "m"], "range": ["#000000", "#ff3b3b", "#ff33ff"]}, "legend": null}
}
},
{
"data": {"name": "one"},
"mark": {"type": "text", "text": "数据利多黄金预期", "font": "Noto Sans CJK SC", "fontSize": 16, "color": "#000000", "align": "left", "baseline": "middle"},
"encoding": {
"x": {"datum": 190.75, "type": "quantitative", "scale": {"domain": [-0.5, 235.5], "nice": false, "zero": false}, "axis": null},
"y": {"datum": 3774.0, "type": "quantitative", "scale": {"domain": [3623.55, 3806.96], "nice": false, "zero": false}}
}
},
{
"data": {"name": "one"},
"mark": {"type": "text", "text": "数据利空黄金预期", "font": "Noto Sans CJK SC", "fontSize": 16, "color": "#ff4040", "align": "left", "baseline": "middle"},
"encoding": {
"x": {"datum": 202.25, "type": "quantitative", "scale": {"domain": [-0.5, 235.5], "nice": false, "zero": false}, "axis": null},
"y": {"datum": 3724.0, "type": "quantitative", "scale": {"domain": [3623.55, 3806.96], "nice": false, "zero": false}}
}
},
{
"data": {"name": "one"},
"mark": {"type": "text", "text": "黄金1小时图", "font": "Noto Sans CJK SC", "fontSize": 24, "color": "#ff4040", "align": "left", "baseline": "middle"},
"encoding": {
"x": {"datum": 157, "type": "quantitative", "scale": {"domain": [-0.5, 235.5], "nice": false, "zero": false}, "axis": null},
"y": {"datum": 3671.0, "type": "quantitative", "scale": {"domain": [3623.55, 3806.96], "nice": false, "zero": false}}
}
},
{
"data": {"name": "one"},
"mark": {"type": "text", "text": "2025-9-25 20:24:01", "font": "Liberation Sans", "fontSize": 25, "color": "#ff4040", "align": "left", "baseline": "middle"},
"encoding": {
"x": {"datum": 157, "type": "quantitative", "scale": {"domain": [-0.5, 235.5], "nice": false, "zero": false}, "axis": null},
"y": {"datum": 3655.0, "type": "quantitative", "scale": {"domain": [3623.55, 3806.96], "nice": false, "zero": false}}
}
},
{
"data": {"name": "one"},
"mark": {"type": "rect", "color": "#000000", "clip": false},
"encoding": {
"x": {"datum": 235.75, "type": "quantitative", "scale": {"domain": [-0.5, 235.5], "nice": false, "zero": false}, "axis": null},
"x2": {"datum": 246.2},
"y": {"datum": 3757.9, "type": "quantitative", "scale": {"domain": [3623.55, 3806.96], "nice": false, "zero": false}},
"y2": {"datum": 3751.9}
}
},
{
"data": {"name": "one"},
"mark": {"type": "text", "text": "3754.90", "font": "Liberation Sans", "fontSize": 10, "color": "#ffffff", "align": "left", "baseline": "middle", "clip": false},
"encoding": {
"x": {"datum": 236.6, "type": "quantitative", "scale": {"domain": [-0.5, 235.5], "nice": false, "zero": false}, "axis": null},
"y": {"datum": 3754.9, "type": "quantitative", "scale": {"domain": [3623.55, 3806.96], "nice": false, "zero": false}}
}
}
]
}
